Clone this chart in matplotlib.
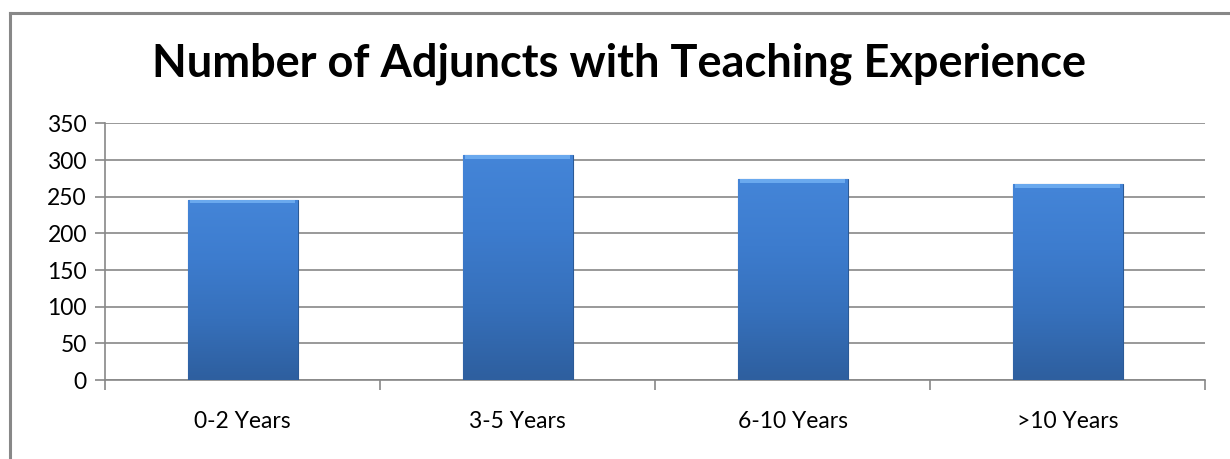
import numpy as np
import matplotlib
matplotlib.use("Agg")
import matplotlib.pyplot as plt
from matplotlib.colors import LinearSegmentedColormap
from matplotlib.lines import Line2D

categories = ["0-2 Years", "3-5 Years", "6-10 Years", ">10 Years"]
counts = [246, 307, 274, 267]
yticks = [0, 50, 100, 150, 200, 250, 300, 350]

plt.rcParams["font.family"] = ["Lato", "DejaVu Sans"]

fig = plt.figure(figsize=(12.3, 4.59), dpi=100)
ax = fig.add_axes([0.0854, 0.172, 0.8943, 0.559])

x = np.arange(len(categories))
bars = ax.bar(x, counts, width=0.4, color="#3f7fd0", edgecolor="#2b5a96", linewidth=0.8, zorder=3)

# vertical gradient inside each bar
grad = LinearSegmentedColormap.from_list("g", ["#2e5f9f", "#3670bb", "#3d7cce", "#4485d8"])
for b in bars:
    x0, y0 = b.get_x(), b.get_y()
    w, h = b.get_width(), b.get_height()
    img = ax.imshow(np.linspace(0, 1, 100).reshape(-1, 1), cmap=grad, origin="lower",
                    extent=[x0, x0 + w, y0, y0 + h], aspect="auto", zorder=3.5)
    img.set_clip_path(b)
    # light bevel at the top
    ax.fill_between([x0 + 0.01, x0 + w - 0.01], y0 + h - 5, y0 + h, color="#6aa9ee", zorder=3.6, linewidth=0)

ax.set_xlim(-0.5, len(categories) - 0.5)
ax.set_ylim(0, 350)
ax.set_yticks(yticks)
ax.set_xticks(x)
ax.set_xticklabels(categories)
ax.set_xticks(np.arange(len(categories) + 1) - 0.5, minor=True)
ax.tick_params(axis="x", which="major", length=0, pad=22, labelsize=16.5)
ax.tick_params(axis="x", which="minor", length=7, color="#888888", width=1.2)
ax.tick_params(axis="y", length=7, color="#888888", width=1.2, labelsize=16.5, pad=6)
ax.yaxis.grid(True, color="#888888", linewidth=1.2, zorder=0)
for s in ["top", "right"]:
    ax.spines[s].set_visible(False)
for s in ["left", "bottom"]:
    ax.spines[s].set_color("#888888")
    ax.spines[s].set_linewidth(1.2)

fig.text(0.503, 0.862, "Number of Adjuncts with Teaching Experience", ha="center", va="center",
         fontsize=32.5, fontweight="bold")

# outer chart frame (left and top edges visible)
fig.add_artist(Line2D([10 / 1230, 10 / 1230], [0, 1 - 13 / 459], color="#888888", linewidth=2.2))
fig.add_artist(Line2D([10 / 1230, 1], [1 - 13 / 459, 1 - 13 / 459], color="#888888", linewidth=2.2))

fig.savefig("out.png", dpi=100)
